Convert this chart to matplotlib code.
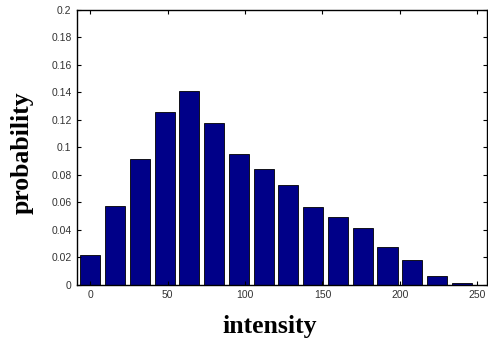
import numpy as np
import matplotlib.pyplot as plt
from matplotlib.ticker import FormatStrFormatter

# bin centres (intensity) and probability per bin
centros = np.arange(0, 241, 16)
prob = [0.0215, 0.0577, 0.0912, 0.126, 0.141, 0.118, 0.0953, 0.0840,
        0.0727, 0.0565, 0.0492, 0.0410, 0.0272, 0.0183, 0.0063, 0.0012]

xticks = [0, 50, 100, 150, 200, 250]
yticks = np.arange(0, 0.201, 0.02)

fig = plt.figure(figsize=(4.88, 3.44), dpi=100)
ax = fig.add_axes([0.158, 0.172, 0.839, 0.799])

ax.bar(centros, prob, width=13, color='#000088', edgecolor='black', linewidth=0.6)

ax.set_xlim(-8.5, 256)
ax.set_ylim(0, 0.2)
ax.set_xticks(xticks)
ax.set_yticks(yticks)
ax.yaxis.set_major_formatter(FormatStrFormatter('%g'))

ax.tick_params(direction='in', top=True, right=True, length=3, width=0.8,
               labelsize=7.5, pad=4, labelcolor='#333333')
for lab in ax.get_xticklabels() + ax.get_yticklabels():
    lab.set_family('Liberation Sans')
for s in ax.spines.values():
    s.set_linewidth(1.0)

fig.text(0.045, 0.555, 'probability', rotation=90, ha='center', va='center',
         fontsize=18.5, fontweight='bold', family='Liberation Serif')
fig.text(0.553, 0.05, 'intensity', ha='center', va='center',
         fontsize=18.5, fontweight='bold', family='Liberation Serif')

fig.savefig('out.png', dpi=100)
